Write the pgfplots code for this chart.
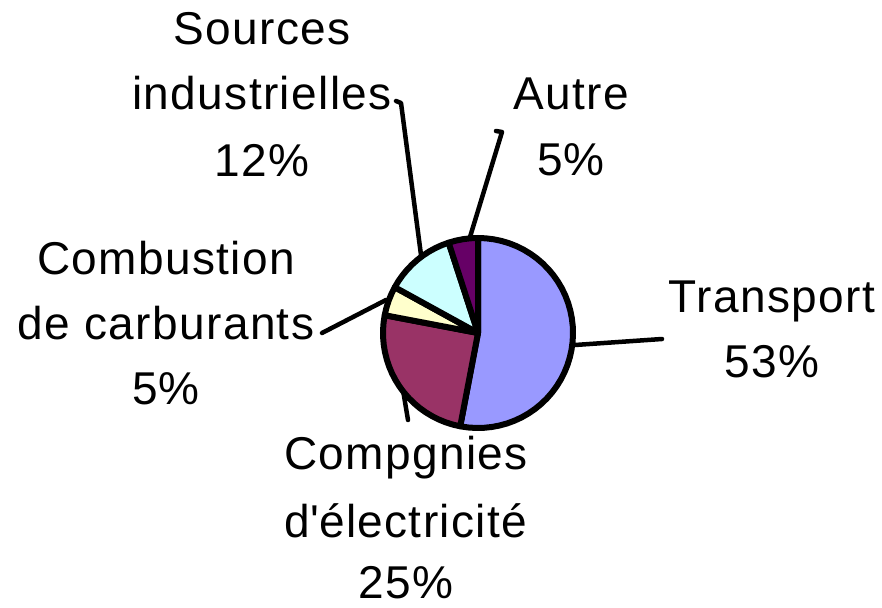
\documentclass[border=0pt]{standalone}
\usepackage{pgfplots}
\pgfplotsset{compat=1.18}
\usepackage{fontspec}
\setmainfont{Liberation Sans}[LetterSpace=3]
\definecolor{cT}{HTML}{9999FF}
\definecolor{cE}{HTML}{993366}
\definecolor{cB}{HTML}{FFFFCC}
\definecolor{cS}{HTML}{CCFFFF}
\definecolor{cA}{HTML}{660066}
% shares in percent: Transport, Compgnies, Combustion, Sources, Autre
\def\pT{53}\def\pE{25}\def\pB{5}\def\pS{12}\def\pA{5}
\pgfmathsetmacro{\aZ}{90}
\pgfmathsetmacro{\aT}{\aZ-\pT*3.6}
\pgfmathsetmacro{\aE}{\aT-\pE*3.6}
\pgfmathsetmacro{\aB}{\aE-\pB*3.6}
\pgfmathsetmacro{\aS}{\aB-\pS*3.6}
\pgfmathsetmacro{\aA}{\aS-\pA*3.6}
\def\cx{478}\def\cy{274}\def\R{95}
\begin{document}
\begin{tikzpicture}[every node/.style={font=\fontsize{46}{55}\selectfont, inner sep=0pt, anchor=base}]
\begin{axis}[width=882pt, height=607pt, scale only axis, hide axis,
  xmin=0, xmax=882, ymin=0, ymax=607, clip=false]
\path (axis cs:0,0) rectangle (axis cs:882,607);
% leader lines
\addplot[black, line width=4.5pt, line join=round, line cap=round] coordinates {(575,262) (662,268)};
\addplot[black, line width=4.5pt, line join=round, line cap=round] coordinates {(421,352) (401,504) (396,506)};
\addplot[black, line width=4.5pt, line join=round, line cap=round] coordinates {(470,370) (502,475) (496,476)};
\addplot[black, line width=4.5pt, line join=round, line cap=round] coordinates {(386,307) (322,274)};
\addplot[black, line width=4.5pt, line join=round, line cap=round] coordinates {(403,217) (408,187)};
% slices
\addplot[fill=cT, draw=black, line width=6pt, line join=round, domain=\aT:\aZ, samples=41, variable=\t]
  ({\cx+\R*cos(t)},{\cy+\R*sin(t)}) -- (axis cs:\cx,\cy) -- cycle;
\addplot[fill=cE, draw=black, line width=6pt, line join=round, domain=\aE:\aT, samples=21, variable=\t]
  ({\cx+\R*cos(t)},{\cy+\R*sin(t)}) -- (axis cs:\cx,\cy) -- cycle;
\addplot[fill=cB, draw=black, line width=6pt, line join=round, domain=\aB:\aE, samples=5, variable=\t]
  ({\cx+\R*cos(t)},{\cy+\R*sin(t)}) -- (axis cs:\cx,\cy) -- cycle;
\addplot[fill=cS, draw=black, line width=6pt, line join=round, domain=\aS:\aB, samples=11, variable=\t]
  ({\cx+\R*cos(t)},{\cy+\R*sin(t)}) -- (axis cs:\cx,\cy) -- cycle;
\addplot[fill=cA, draw=black, line width=6pt, line join=round, domain=\aA:\aS, samples=5, variable=\t]
  ({\cx+\R*cos(t)},{\cy+\R*sin(t)}) -- (axis cs:\cx,\cy) -- cycle;
% labels
\node at (axis cs:262,562) {Sources};
\node at (axis cs:262,497) {industrielles};
\node at (axis cs:262,430) {12\%};
\node at (axis cs:571,497) {Autre};
\node at (axis cs:571,431) {5\%};
\node at (axis cs:166,332) {Combustion};
\node at (axis cs:166,267) {de carburants};
\node at (axis cs:166,202) {5\%};
\node at (axis cs:772,294) {Transport};
\node at (axis cs:772,229) {53\%};
\node at (axis cs:406,137) {Compgnies};
\node at (axis cs:406,70) {d\textquotesingle électricité};
\node at (axis cs:406,9) {25\%};
\end{axis}
\end{tikzpicture}
\end{document}
